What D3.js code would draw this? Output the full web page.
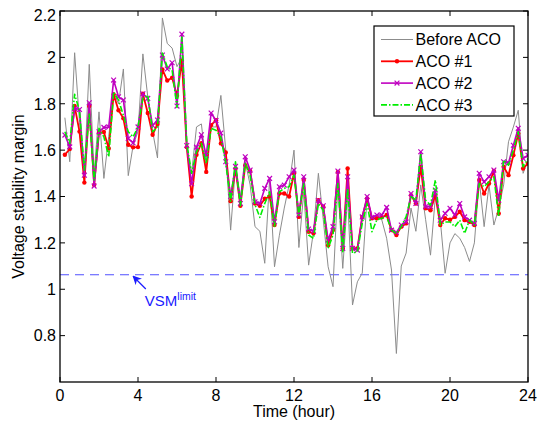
<!DOCTYPE html>
<html>
<head>
<meta charset="utf-8">
<script src="https://cdn.jsdelivr.net/npm/d3@7"></script>
<style>
  body { margin: 0; background: #fff; }
  text { font-family: "Liberation Sans", Arial, sans-serif; }
</style>
</head>
<body>
<div id="chart"></div>
<script>
////////////////////////////////// DATA //////////////////////////////////
// time grid: every 15 minutes, 0.25 h .. 24 h
var hours = d3.range(1, 97).map(function(i) { return i * 0.25; });

var beforeACO = [
  1.74, 1.55, 2.02, 1.72, 1.50, 1.97, 1.50, 1.765, 1.478, 1.66, 1.85, 1.80,
  1.95, 1.49, 1.62, 1.68, 2.015, 1.83, 1.68, 1.566, 2.17, 2.06, 2.04, 1.96,
  2.00, 1.62, 1.50, 1.70, 1.713, 1.53, 1.70, 1.70, 1.836, 1.60, 1.255, 1.53,
  1.40, 1.55, 1.45, 1.27, 1.25, 1.112, 1.478, 1.097, 1.233, 1.35, 1.45, 1.60,
  1.18, 1.42, 1.104, 1.25, 1.50, 1.30, 1.097, 1.011, 1.45, 1.09, 1.40, 0.932,
  1.032, 1.07, 1.40, 1.30, 1.32, 1.30, 1.22, 1.083, 0.723, 1.10, 1.156, 1.35,
  1.25, 1.45, 1.30, 1.147, 1.40, 1.30, 1.069, 1.20, 1.24, 1.22, 1.18, 1.12,
  1.20, 1.47, 1.27, 1.45, 1.277, 1.35, 1.45, 1.636, 1.70, 1.772, 1.50, 1.56
];

var aco1 = [
  1.58, 1.605, 1.79, 1.68, 1.46, 1.79, 1.45, 1.675, 1.678, 1.607, 1.84, 1.772,
  1.737, 1.623, 1.612, 1.613, 1.843, 1.76, 1.666, 1.713, 1.948, 1.90, 1.912, 1.835,
  1.985, 1.613, 1.40, 1.58, 1.63, 1.506, 1.708, 1.729, 1.629, 1.59, 1.38, 1.52,
  1.36, 1.535, 1.51, 1.37, 1.36, 1.39, 1.40, 1.277, 1.413, 1.413, 1.40, 1.50,
  1.312, 1.471, 1.248, 1.241, 1.384, 1.356, 1.19, 1.255, 1.506, 1.176, 1.521, 1.176,
  1.176, 1.312, 1.392, 1.306, 1.306, 1.31, 1.32, 1.255, 1.234, 1.27, 1.284, 1.406,
  1.37, 1.528, 1.349, 1.341, 1.406, 1.277, 1.306, 1.30, 1.312, 1.334, 1.298, 1.291,
  1.277, 1.471, 1.413, 1.456, 1.51, 1.327, 1.528, 1.492, 1.578, 1.672, 1.521, 1.542
];

var aco2 = [
  1.665, 1.614, 1.78, 1.775, 1.492, 1.804, 1.445, 1.679, 1.698, 1.70, 1.902, 1.83,
  1.816, 1.65, 1.631, 1.70, 1.843, 1.823, 1.706, 1.73, 2.01, 1.95, 1.977, 1.79,
  2.10, 1.62, 1.455, 1.613, 1.666, 1.577, 1.76, 1.728, 1.674, 1.55, 1.40, 1.53,
  1.37, 1.571, 1.514, 1.377, 1.37, 1.435, 1.478, 1.291, 1.442, 1.449, 1.485, 1.514,
  1.32, 1.485, 1.26, 1.25, 1.384, 1.36, 1.212, 1.27, 1.51, 1.176, 1.485, 1.176,
  1.169, 1.312, 1.40, 1.31, 1.32, 1.32, 1.353, 1.255, 1.245, 1.277, 1.29, 1.413,
  1.37, 1.593, 1.356, 1.356, 1.428, 1.298, 1.327, 1.349, 1.32, 1.37, 1.312, 1.298,
  1.284, 1.50, 1.463, 1.485, 1.514, 1.384, 1.55, 1.545, 1.621, 1.694, 1.564, 1.578
];

var aco3 = [
  1.679, 1.629, 1.841, 1.77, 1.514, 1.758, 1.471, 1.694, 1.657, 1.571, 1.851, 1.816,
  1.75, 1.679, 1.657, 1.70, 1.823, 1.837, 1.679, 1.70, 2.019, 1.959, 1.945, 1.784,
  2.088, 1.629, 1.50, 1.593, 1.629, 1.542, 1.694, 1.686, 1.655, 1.545, 1.38, 1.55,
  1.36, 1.545, 1.49, 1.365, 1.31, 1.37, 1.42, 1.272, 1.42, 1.435, 1.442, 1.492,
  1.32, 1.456, 1.234, 1.219, 1.37, 1.341, 1.176, 1.234, 1.456, 1.162, 1.435, 1.155,
  1.162, 1.284, 1.37, 1.248, 1.30, 1.306, 1.313, 1.255, 1.24, 1.27, 1.313, 1.399,
  1.385, 1.586, 1.384, 1.363, 1.471, 1.277, 1.29, 1.29, 1.27, 1.298, 1.241, 1.298,
  1.277, 1.456, 1.442, 1.463, 1.485, 1.312, 1.557, 1.535, 1.60, 1.679, 1.528, 1.564
];

var vsmLimit = 1.0625;
var xTicks = [0, 4, 8, 12, 16, 20, 24];
var yTicks = [0.8, 1, 1.2, 1.4, 1.6, 1.8, 2, 2.2];
var seriesNames = ["Before ACO", "ACO #1", "ACO #2", "ACO #3"];

////////////////////////////////// D3 //////////////////////////////////
function drawChart() {

  // Settings
  var width = 538;
  var height = 425;
  var margin = { left: 60, right: 10, top: 11, bottom: 43 };
  var fontSize = 16;

  var svg = d3.select('#chart')
    .append('svg')
    .attr('width', width)
    .attr('height', height);

  var x = d3.scaleLinear().domain([0, 24]).range([margin.left, width - margin.right]);
  var y = d3.scaleLinear().domain([0.6, 2.2]).range([height - margin.bottom, margin.top]);

  var styles = [
    { data: beforeACO, color: '#8c8c8c', width: 1, dash: null, marker: null },
    { data: aco1, color: '#ff0000', width: 1.8, dash: null, marker: 'dot' },
    { data: aco2, color: '#c000c0', width: 1.6, dash: null, marker: 'x' },
    { data: aco3, color: '#00ee00', width: 1.6, dash: '6,2,1.5,2', marker: null }
  ];

  // clip to plot box
  svg.append('clipPath').attr('id', 'plotclip')
    .append('rect')
    .attr('x', x(0)).attr('y', y(2.2))
    .attr('width', x(24) - x(0)).attr('height', y(0.6) - y(2.2));

  var plot = svg.append('g').attr('clip-path', 'url(#plotclip)');

  // VSM limit
  plot.append('line')
    .attr('x1', x(0)).attr('x2', x(24))
    .attr('y1', y(vsmLimit)).attr('y2', y(vsmLimit))
    .attr('stroke', '#5050ff')
    .attr('stroke-width', 1.2)
    .attr('stroke-dasharray', '9,6');

  var line = d3.line()
    .x(function(d) { return x(d[0]); })
    .y(function(d) { return y(d[1]); });

  function drawMarker(g, mk, cx, cy, color) {
    if (mk === 'dot') {
      g.append('circle').attr('cx', cx).attr('cy', cy).attr('r', 2.2).attr('fill', color);
    } else if (mk === 'x') {
      var s = 2.4;
      g.append('path')
        .attr('d', 'M' + (cx - s) + ',' + (cy - s) + 'L' + (cx + s) + ',' + (cy + s) +
                   'M' + (cx - s) + ',' + (cy + s) + 'L' + (cx + s) + ',' + (cy - s))
        .attr('stroke', color).attr('stroke-width', 1.2).attr('fill', 'none');
    }
  }

  styles.forEach(function(s) {
    var pts = hours.map(function(h, i) { return [h, s.data[i]]; });
    plot.append('path')
      .datum(pts)
      .attr('d', line)
      .attr('fill', 'none')
      .attr('stroke', s.color)
      .attr('stroke-width', s.width)
      .attr('stroke-linejoin', 'round')
      .attr('stroke-dasharray', s.dash);
    if (s.marker) {
      var mg = plot.append('g');
      pts.forEach(function(p) { drawMarker(mg, s.marker, x(p[0]), y(p[1]), s.color); });
    }
  });

  // Axes: box with inward ticks
  var tickLen = 5;
  var axes = svg.append('g');
  axes.append('rect')
    .attr('x', x(0)).attr('y', y(2.2))
    .attr('width', x(24) - x(0)).attr('height', y(0.6) - y(2.2))
    .attr('fill', 'none').attr('stroke', '#000').attr('stroke-width', 1.3);

  xTicks.forEach(function(t) {
    axes.append('line').attr('x1', x(t)).attr('x2', x(t))
      .attr('y1', y(0.6)).attr('y2', y(0.6) - tickLen).attr('stroke', '#000');
    axes.append('line').attr('x1', x(t)).attr('x2', x(t))
      .attr('y1', y(2.2)).attr('y2', y(2.2) + tickLen).attr('stroke', '#000');
    axes.append('text')
      .attr('x', x(t)).attr('y', y(0.6) + 19)
      .attr('text-anchor', 'middle')
      .attr('font-size', fontSize)
      .text(t);
  });

  yTicks.forEach(function(t) {
    axes.append('line').attr('x1', x(0)).attr('x2', x(0) + tickLen)
      .attr('y1', y(t)).attr('y2', y(t)).attr('stroke', '#000');
    axes.append('line').attr('x1', x(24)).attr('x2', x(24) - tickLen)
      .attr('y1', y(t)).attr('y2', y(t)).attr('stroke', '#000');
    axes.append('text')
      .attr('x', x(0) - 4).attr('y', Math.max(y(t), y(2.2) + 4))
      .attr('dy', '0.36em')
      .attr('text-anchor', 'end')
      .attr('font-size', fontSize)
      .text(t);
  });

  // Axis labels
  svg.append('text')
    .attr('x', (x(0) + x(24)) / 2).attr('y', 417)
    .attr('text-anchor', 'middle')
    .attr('font-size', fontSize)
    .text('Time (hour)');

  svg.append('text')
    .attr('transform', 'translate(24,' + ((y(0.6) + y(2.2)) / 2) + ') rotate(-90)')
    .attr('text-anchor', 'middle')
    .attr('font-size', fontSize)
    .text('Voltage stability margin');

  // VSM annotation with arrow
  var ax0 = x(4.4), ay0 = 289, ax1 = x(3.75), ay1 = y(vsmLimit) + 1.5;
  svg.append('defs').append('marker')
    .attr('id', 'ahead').attr('viewBox', '0 0 10 10')
    .attr('refX', 9).attr('refY', 5)
    .attr('markerWidth', 9).attr('markerHeight', 9)
    .attr('markerUnits', 'userSpaceOnUse')
    .attr('orient', 'auto')
    .append('path').attr('d', 'M0,0L10,5L0,10L3,5Z').attr('fill', '#1a1aff');
  svg.append('line')
    .attr('x1', ax0).attr('y1', ay0).attr('x2', ax1).attr('y2', ay1)
    .attr('stroke', '#1a1aff').attr('stroke-width', 1.2)
    .attr('marker-end', 'url(#ahead)');
  var ann = svg.append('text')
    .attr('x', x(4.35)).attr('y', 306)
    .attr('font-size', 15)
    .attr('fill', '#1a1aff');
  ann.append('tspan').text('VSM');
  ann.append('tspan').attr('font-size', 10.5).attr('dy', -6).text('limit');

  // Legend
  var lg = svg.append('g').attr('transform', 'translate(374,26)');
  lg.append('rect')
    .attr('width', 140).attr('height', 90)
    .attr('fill', '#fff').attr('stroke', '#000').attr('stroke-width', 1.2);
  styles.forEach(function(s, i) {
    var ly = 13.5 + i * 21.8;
    lg.append('line')
      .attr('x1', 7).attr('x2', 39).attr('y1', ly).attr('y2', ly)
      .attr('stroke', s.color).attr('stroke-width', s.width)
      .attr('stroke-dasharray', s.dash);
    if (s.marker) drawMarker(lg, s.marker, 23, ly, s.color);
    lg.append('text')
      .attr('x', 41.5).attr('y', ly).attr('dy', '0.36em')
      .attr('font-size', fontSize)
      .text(seriesNames[i]);
  });
}

drawChart();
////////////////////////////////// D3 - END //////////////////////////////////
</script>
</body>
</html>
